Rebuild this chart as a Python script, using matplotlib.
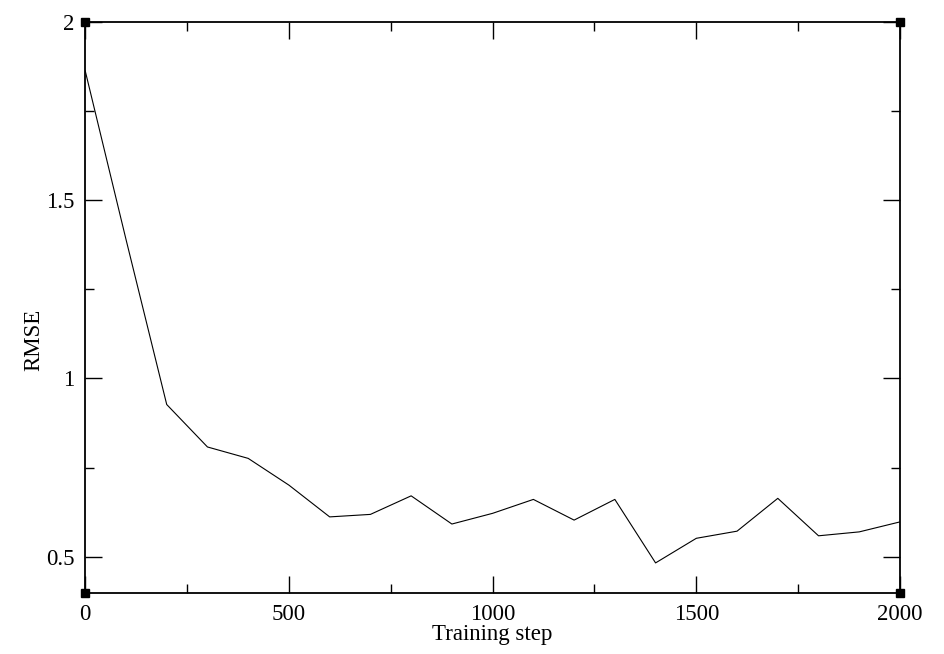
import matplotlib
matplotlib.use("Agg")
import matplotlib.pyplot as plt
from matplotlib.ticker import MultipleLocator, FormatStrFormatter

# training curve, one point every 100 steps
steps = [0, 100, 200, 300, 400, 500, 600, 700, 800, 900, 1000,
         1100, 1200, 1300, 1400, 1500, 1600, 1700, 1800, 1900, 2000]
rmse = [1.862, 1.39, 0.927, 0.808, 0.776, 0.701, 0.612, 0.619, 0.671, 0.592, 0.622,
        0.661, 0.603, 0.661, 0.483, 0.552, 0.572, 0.664, 0.559, 0.570, 0.598]

plt.rcParams['font.family'] = ['Liberation Serif', 'DejaVu Serif']
plt.rcParams['font.size'] = 16.5

fig = plt.figure(figsize=(9.44, 6.54), dpi=100)
ax = fig.add_axes([0.0903, 0.094, 0.8631, 0.8728])

ax.plot(steps, rmse, color='black', linewidth=0.8)

ax.set_xlim(0, 2000)
ax.set_ylim(0.4, 2)
ax.xaxis.set_major_locator(MultipleLocator(500))
ax.xaxis.set_minor_locator(MultipleLocator(250))
ax.yaxis.set_major_locator(MultipleLocator(0.5))
ax.yaxis.set_minor_locator(MultipleLocator(0.25))
ax.yaxis.set_major_formatter(FormatStrFormatter('%g'))

ax.tick_params(which='both', direction='in', top=True, right=True, width=1.0)
ax.tick_params(which='major', length=12, pad=8)
ax.tick_params(which='minor', length=6.5)
for sp in ax.spines.values():
    sp.set_linewidth(1.3)

# grace style corner handles
ax.plot([0, 1, 0, 1], [0, 0, 1, 1], linestyle='none', marker='s', markersize=6,
        color='black', transform=ax.transAxes, clip_on=False)

ax.set_xlabel("Training step")
ax.set_ylabel("RMSE")
ax.xaxis.set_label_coords(0.5, -0.056)
ax.yaxis.set_label_coords(-0.05, 0.442)

fig.savefig("out.png", dpi=100)
